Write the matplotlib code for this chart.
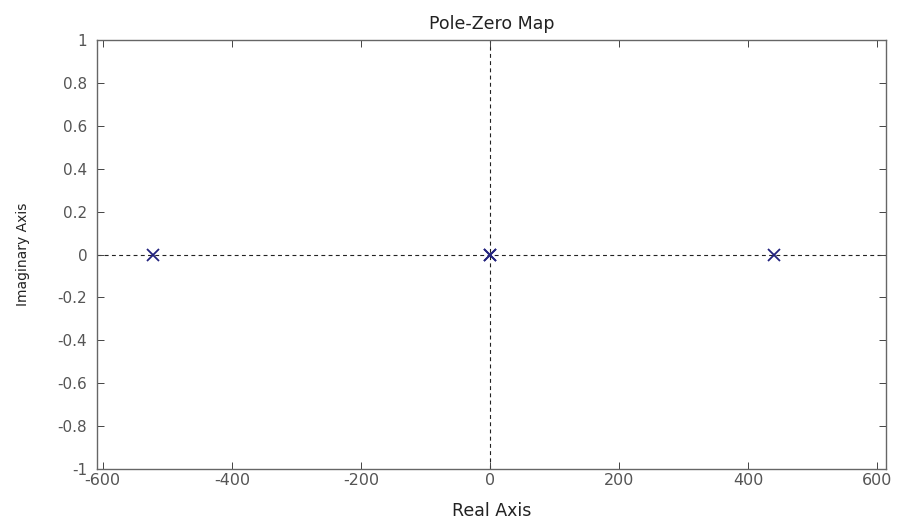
import matplotlib
matplotlib.use("Agg")
import matplotlib.pyplot as plt

# Pole locations (real, imaginary)
pole_real = [-522, 0, 0, 440]
pole_imag = [0, 0, 0, 0]

x_ticks = [-600, -400, -200, 0, 200, 400, 600]
y_ticks = [-1, -0.8, -0.6, -0.4, -0.2, 0, 0.2, 0.4, 0.6, 0.8, 1]
y_tick_labels = ['-1', '-0.8', '-0.6', '-0.4', '-0.2', '0', '0.2', '0.4', '0.6', '0.8', '1']

plt.rcParams['font.family'] = ['DejaVu Sans']
plt.rcParams['axes.unicode_minus'] = False

W, H = 906, 520
fig = plt.figure(figsize=(W / 100, H / 100), dpi=100)
left, right, top, bottom = 97, 886, 40, 469
ax = fig.add_axes([left / W, 1 - bottom / H, (right - left) / W, (bottom - top) / H])

ax.axhline(0, color='#222222', linestyle=(0, (3.5, 3)), linewidth=0.8, zorder=1)
ax.axvline(0, color='#222222', linestyle=(0, (3.5, 3)), linewidth=0.8, zorder=1)

ax.plot(pole_real, pole_imag, linestyle='none', marker='x', markersize=8,
        markeredgewidth=1.3, color='#23237e', zorder=3)

ax.set_xlim(-609, 614)
ax.set_ylim(-1, 1)
ax.set_xticks(x_ticks)
ax.set_yticks(y_ticks)
ax.set_yticklabels(y_tick_labels)

ax.tick_params(direction='in', top=True, right=True, length=5, width=0.7,
               labelsize=11.5, colors='#444444', labelcolor='#555555', pad=3)
ax.tick_params(axis='y', pad=7, labelsize=11)
for s in ax.spines.values():
    s.set_color('#666666')
    s.set_linewidth(1.0)

ax.set_title('Pole-Zero Map', fontsize=12.5, color='#222222', pad=8)
ax.set_xlabel('Real Axis', fontsize=12.5, color='#222222', labelpad=10)
ax.set_ylabel('Imaginary Axis', fontsize=10, color='#222222', labelpad=20)

fig.savefig('out.png', dpi=100)
